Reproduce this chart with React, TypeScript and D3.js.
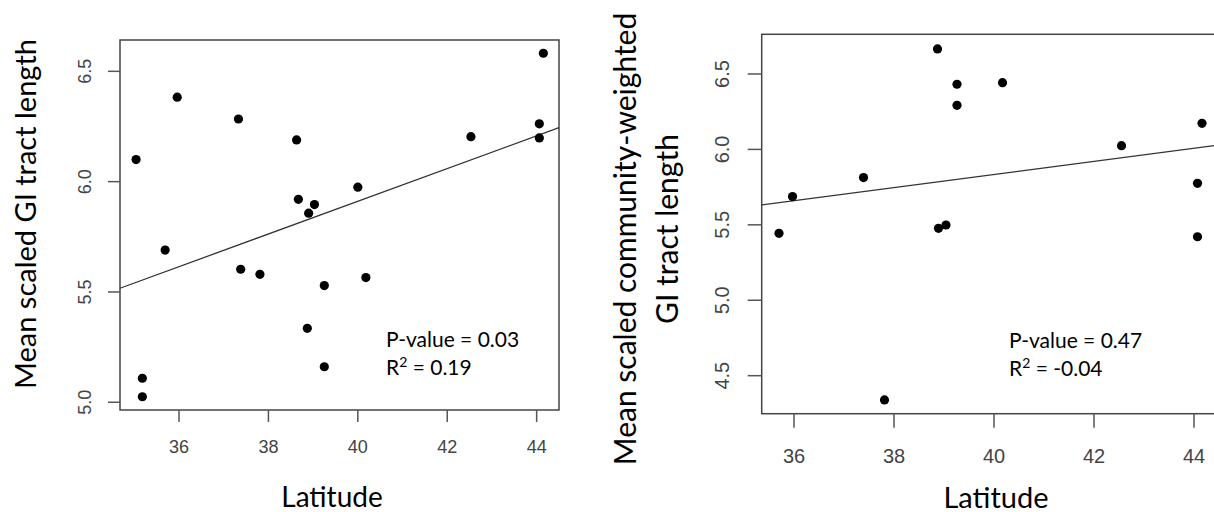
import React from 'react';
import * as d3 from 'd3';

// left panel: mean scaled GI tract length vs latitude
const latA = [35.04, 35.96, 37.33, 38.63, 38.67, 35.69, 37.38, 37.81, 35.18, 35.18, 44.15, 44.06, 44.06, 42.53, 39.03, 38.9, 40.0, 40.18, 39.25, 38.87, 39.25];
const lenA = [6.1, 6.383, 6.284, 6.189, 5.92, 5.69, 5.603, 5.58, 5.109, 5.025, 6.582, 6.262, 6.198, 6.204, 5.896, 5.857, 5.975, 5.565, 5.529, 5.335, 5.161];
const fitA = { intercept: 2.947, slope: 0.0741 };
const statsA = ['P-value = 0.03', '0.19'];

// right panel: community-weighted GI tract length vs latitude
const latB = [35.7, 35.97, 37.39, 38.87, 39.26, 39.26, 40.17, 44.16, 42.55, 44.07, 44.07, 38.89, 39.04, 37.81];
const lenB = [5.444, 5.687, 5.813, 6.666, 6.432, 6.292, 6.442, 6.173, 6.025, 5.775, 5.421, 5.477, 5.499, 4.339];
const fitB = { intercept: 4.094, slope: 0.0435 };
const statsB = ['P-value = 0.47', '-0.04'];

const latTicks = [36, 38, 40, 42, 44];
const lenTicksA = [5.0, 5.5, 6.0, 6.5];
const lenTicksB = [4.5, 5.0, 5.5, 6.0, 6.5];

const TICK_FONT = '"Liberation Sans", Arial, sans-serif';
const LABEL_FONT = 'Lato, "Open Sans", sans-serif';

interface PanelProps {
  lat: number[];
  len: number[];
  fit: { intercept: number; slope: number };
  stats: string[];
  yTicks: number[];
  xDomain: [number, number];
  yDomain: [number, number];
  box: { left: number; right: number; top: number; bottom: number };
  tickLen: number;
  tickFont: number;
  yTickX: number;
  xTickY: number;
  yLabel: string[];
  yLabelX: number[];
  yLabelCenter: number[];
  yLabelFont: number;
  xLabelFont: number;
  xLabelY: number;
  xLabelX: number;
  statsX: number;
  statsY: number;
}

const Panel: React.FC<PanelProps> = (p) => {
  const x = d3.scaleLinear().domain(p.xDomain).range([p.box.left, p.box.right]);
  const y = d3.scaleLinear().domain(p.yDomain).range([p.box.bottom, p.box.top]);
  const line = d3.line<number>()
    .x((d) => x(d))
    .y((d) => y(p.fit.intercept + p.fit.slope * d));

  return (
    <g>
      <rect
        x={p.box.left}
        y={p.box.top}
        width={p.box.right - p.box.left}
        height={p.box.bottom - p.box.top}
        fill="none"
        stroke="#444"
        strokeWidth={1.5}
      />
      {/* y axis */}
      {p.yTicks.map((t) => (
        <g key={'y' + t}>
          <line x1={p.box.left - p.tickLen} x2={p.box.left} y1={y(t)} y2={y(t)} stroke="#555" strokeWidth={1.5} />
          <text
            transform={`translate(${p.yTickX},${y(t)}) rotate(-90)`}
            textAnchor="middle"
            dominantBaseline="central"
            fontFamily={TICK_FONT}
            fontSize={p.tickFont}
            fill="#444"
          >
            {t.toFixed(1)}
          </text>
        </g>
      ))}
      {/* x axis */}
      {latTicks.map((t) => (
        <g key={'x' + t}>
          <line x1={x(t)} x2={x(t)} y1={p.box.bottom} y2={p.box.bottom + p.tickLen} stroke="#555" strokeWidth={1.5} />
          <text
            x={x(t)}
            y={p.xTickY}
            textAnchor="middle"
            dominantBaseline="central"
            fontFamily={TICK_FONT}
            fontSize={p.tickFont}
            fill="#444"
          >
            {t}
          </text>
        </g>
      ))}
      {/* regression line */}
      <path d={line(p.xDomain) || ''} fill="none" stroke="#333" strokeWidth={1.3} />
      {/* points */}
      {p.lat.map((d, i) => (
        <circle key={i} cx={x(d)} cy={y(p.len[i])} r={4.6} fill="#000" />
      ))}
      {/* axis labels */}
      <text
        x={p.xLabelX}
        y={p.xLabelY}
        textAnchor="middle"
        dominantBaseline="central"
        fontFamily={LABEL_FONT}
        fontSize={p.xLabelFont}
        fill="#000"
      >
        Latitude
      </text>
      {p.yLabel.map((s, i) => (
        <text
          key={s}
          transform={`translate(${p.yLabelX[i]},${p.yLabelCenter[i]}) rotate(-90)`}
          textAnchor="middle"
          dominantBaseline="central"
          fontFamily={LABEL_FONT}
          fontSize={p.yLabelFont}
          fill="#000"
        >
          {s}
        </text>
      ))}
      {/* stats */}
      <text x={p.statsX} y={p.statsY} fontFamily={LABEL_FONT} fontSize={21} fill="#000">
        {p.stats[0]}
      </text>
      <text x={p.statsX} y={p.statsY + 28} fontFamily={LABEL_FONT} fontSize={21} fill="#000">
        R<tspan fontSize={14} dy={-8}>2</tspan>
        <tspan dy={8}>{' = ' + p.stats[1]}</tspan>
      </text>
    </g>
  );
};

export default function App() {
  return (
    <svg
      width={1214}
      height={512}
      style={{ position: 'absolute', left: 0, top: 0, background: '#fff' }}
    >
      <Panel
        lat={latA}
        len={lenA}
        fit={fitA}
        stats={statsA}
        yTicks={lenTicksA}
        xDomain={[34.68, 44.5]}
        yDomain={[4.965, 6.642]}
        box={{ left: 120, right: 559, top: 40, bottom: 410 }}
        tickLen={12}
        tickFont={18}
        yTickX={85}
        xTickY={447}
        yLabel={['Mean scaled GI tract length']}
        yLabelX={[24]}
        yLabelCenter={[214]}
        yLabelFont={29}
        xLabelFont={28}
        xLabelY={496}
        xLabelX={332}
        statsX={386}
        statsY={347}
      />
      <Panel
        lat={latB}
        len={lenB}
        fit={fitB}
        stats={statsB}
        yTicks={lenTicksB}
        xDomain={[35.354, 44.5]}
        yDomain={[4.248, 6.763]}
        box={{ left: 761.7, right: 1219, top: 34.3, bottom: 413.7 }}
        tickLen={14}
        tickFont={20}
        yTickX={722}
        xTickY={456}
        yLabel={['Mean scaled community-weighted', 'GI tract length']}
        yLabelX={[624, 666]}
        yLabelCenter={[239, 229]}
        yLabelFont={30}
        xLabelFont={29}
        xLabelY={496}
        xLabelX={996}
        statsX={1009}
        statsY={348}
      />
    </svg>
  );
}
